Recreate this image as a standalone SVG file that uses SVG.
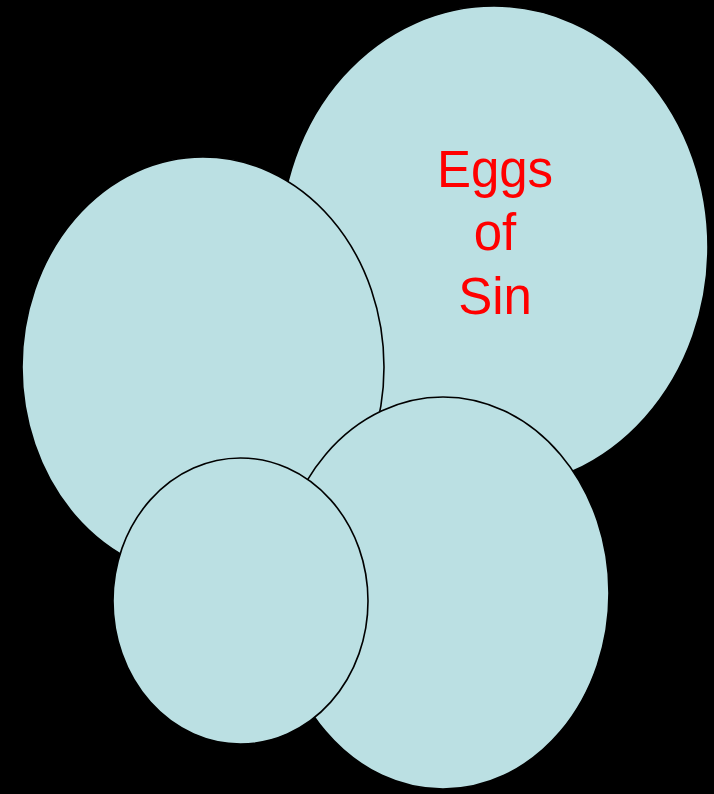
<svg xmlns="http://www.w3.org/2000/svg" width="714" height="794" viewBox="0 0 714 794">
  <style>
    .egg { fill: #BBE0E3; stroke: #000000; stroke-width: 1.6; }
    .label { font-family: "Liberation Sans", Arial, sans-serif; font-size: 51px; fill: #FF0000; text-anchor: middle; }
  </style>
  <rect x="0" y="0" width="714" height="794" fill="#000000"/>
  <g id="egg-top-right">
    <ellipse class="egg" cx="494" cy="247" rx="214" ry="241"/>
    <text class="label" x="495" y="187">Eggs</text>
    <text class="label" x="495" y="250">of</text>
    <text class="label" x="495" y="314">Sin</text>
  </g>
  <g id="egg-left">
    <ellipse class="egg" cx="203" cy="367" rx="181" ry="210"/>
  </g>
  <g id="egg-bottom-right">
    <ellipse class="egg" cx="443" cy="593" rx="166" ry="196"/>
  </g>
  <g id="egg-bottom-left">
    <ellipse class="egg" cx="240.5" cy="601" rx="127.5" ry="143"/>
  </g>
  <g id="connectors"/>
</svg>
